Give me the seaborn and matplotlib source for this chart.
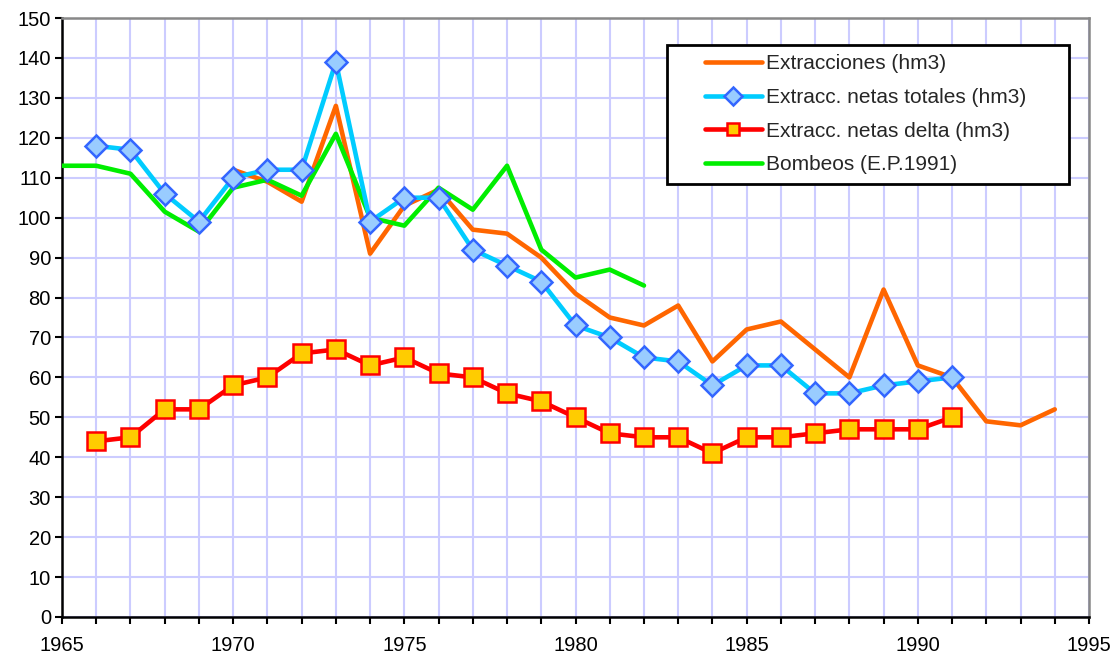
import matplotlib
matplotlib.use("Agg")
import matplotlib.pyplot as plt
import seaborn as sns
import numpy as np
from matplotlib.ticker import MultipleLocator
from matplotlib.lines import Line2D
from matplotlib.legend_handler import HandlerLine2D

# Data
years_extr = list(range(1970, 1995))
extracciones = [112, 109, 104, 128, 91, 103, 107, 97, 96, 90, 81, 75, 73, 78, 64,
                72, 74, 67, 60, 82, 63, 60, 49, 48, 52]

years_netas = list(range(1966, 1992))
netas_totales = [118, 117, 106, 99, 110, 112, 112, 139, 99, 105, 105, 92, 88, 84, 73,
                 70, 65, 64, 58, 63, 63, 56, 56, 58, 59, 60]
netas_delta = [44, 45, 52, 52, 58, 60, 66, 67, 63, 65, 61, 60, 56, 54, 50,
               46, 45, 45, 41, 45, 45, 46, 47, 47, 47, 50]

years_bomb = list(range(1965, 1983))
bombeos = [113, 113, 111, 101.5, 96.5, 107.5, 109.5, 105.5, 121, 100, 98, 107.5,
           102, 113, 92, 85, 87, 83]

labels = ["Extracciones (hm3)", "Extracc. netas totales (hm3)",
          "Extracc. netas delta (hm3)", "Bombeos (E.P.1991)"]

sns.set_theme(style="white")
plt.rcParams['font.family'] = ['Liberation Sans', 'DejaVu Sans']

W, H = 1117, 656
fig = plt.figure(figsize=(W/100, H/100), dpi=100)
ax = fig.add_axes([62/W, 39/H, (1089-62)/W, (617-18)/H])

lw = 3.3
sns.lineplot(x=years_extr, y=extracciones, ax=ax, color="#FF6600", lw=lw,
             label=labels[0], zorder=3)
sns.lineplot(x=years_netas, y=netas_totales, ax=ax, color="#00CCFF", lw=lw,
             marker="D", markersize=11, markerfacecolor="#99CCFF",
             markeredgecolor="#3366FF", markeredgewidth=1.8,
             label=labels[1], zorder=5)
sns.lineplot(x=years_netas, y=netas_delta, ax=ax, color="#FF0000", lw=lw,
             marker="s", markersize=12.5, markerfacecolor="#FFCC00",
             markeredgecolor="#FF0000", markeredgewidth=1.8,
             label=labels[2], zorder=6)
sns.lineplot(x=years_bomb, y=bombeos, ax=ax, color="#00EE00", lw=lw,
             label=labels[3], zorder=4)

ax.set_xlim(1965, 1995)
ax.set_ylim(0, 150)
ax.xaxis.set_major_locator(MultipleLocator(5))
ax.xaxis.set_minor_locator(MultipleLocator(1))
ax.yaxis.set_major_locator(MultipleLocator(10))
ax.grid(True, which="both", color="#CCCCFF", lw=1.5, zorder=0)
ax.set_axisbelow(True)

for s in ["left", "bottom"]:
    ax.spines[s].set_color("black")
    ax.spines[s].set_linewidth(1.8)
for s in ["top", "right"]:
    ax.spines[s].set_color("#888888")
    ax.spines[s].set_linewidth(1.8)

ax.tick_params(axis="both", which="both", direction="out", length=5, width=1.5,
               color="black", labelsize=14.5, bottom=True, left=True,
               labelcolor="black")
ax.tick_params(axis="x", which="major", pad=9)
ax.tick_params(axis="y", which="major", pad=3)
ax.set_xlabel("")
ax.set_ylabel("")

fs = 15
x0 = (667-62)/1027
x1 = (1069-62)/1027
y_top = (617-45)/599
y_bot = (617-183)/599
handles, labs = ax.get_legend_handles_labels()
leg = ax.legend(handles, labs, loc="upper left",
                bbox_to_anchor=(x0, y_bot, x1-x0, y_top-y_bot), mode="expand",
                frameon=True, fancybox=False, framealpha=1, edgecolor="black",
                fontsize=fs, handlelength=4.1, handletextpad=0.2,
                labelspacing=0.7, borderpad=0.45, borderaxespad=0,
                handler_map={Line2D: HandlerLine2D(xpad=1.35)})
leg.get_frame().set_linewidth(2)
leg.set_zorder(10)
for h in leg.legend_handles:
    if h.get_marker() not in (None, "None", ""):
        h.set_markersize(9)

fig.savefig("out.png", dpi=100)
